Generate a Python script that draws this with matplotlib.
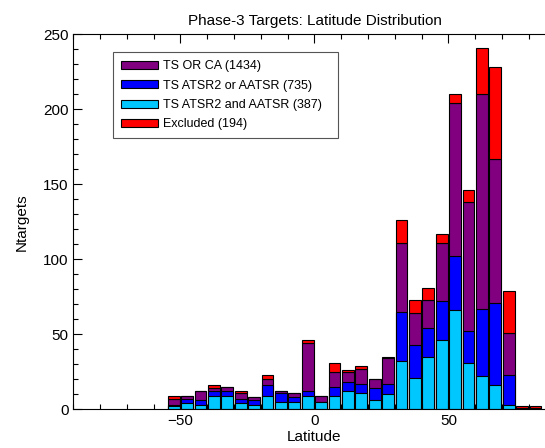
import numpy as np
import matplotlib
matplotlib.use("Agg")
import matplotlib.pyplot as plt
from matplotlib.patches import Patch

plt.rcParams['font.family'] = ['Liberation Sans', 'DejaVu Sans']

# 5-degree latitude bins (left edges)
bin_left = [-55, -50, -45, -40, -35, -30, -25, -20, -15, -10, -5, 0, 5, 10,
            15, 20, 25, 30, 35, 40, 45, 50, 55, 60, 65, 70, 75, 80]

# counts per bin for each target set
ts_or_ca = [7, 9, 12, 14, 15, 11, 8, 20, 12, 11, 44, 9, 25, 25,
            27, 20, 34, 111, 64, 73, 111, 204, 138, 210, 167, 51, 1, 1]
ts_atsr2_or_aatsr = [3, 7, 6, 12, 12, 7, 6, 16, 11, 8, 12, 5, 15, 18,
                     17, 14, 17, 65, 43, 54, 72, 102, 52, 67, 71, 23, 0, 0]
ts_atsr2_and_aatsr = [2, 4, 3, 9, 9, 4, 3, 9, 5, 5, 9, 5, 9, 12,
                      11, 6, 10, 32, 21, 35, 46, 66, 31, 22, 16, 3, 0, 0]
excluded = [2, 0, 0, 2, 0, 1, 0, 3, 0, 0, 2, 0, 6, 1,
            2, 0, 1, 15, 9, 8, 6, 6, 8, 31, 61, 28, 1, 1]

labels = ["TS OR CA", "TS ATSR2 or AATSR", "TS ATSR2 and AATSR", "Excluded"]
colors = ["#800080", "#0000FF", "#00C8FF", "#FF0000"]

bin_width = 5.0
bar_width = 4.4
centers = np.array(bin_left) + bin_width / 2

fig = plt.figure(figsize=(5.45, 4.48), dpi=100)
ax = fig.add_axes([73.3 / 545, 38.7 / 448, 482.3 / 545, 375.0 / 448])

edge = dict(edgecolor="black", linewidth=0.8)
ax.bar(centers, ts_or_ca, width=bar_width, color=colors[0], **edge)
ax.bar(centers, excluded, width=bar_width, bottom=ts_or_ca, color=colors[3], **edge)
ax.bar(centers, ts_atsr2_or_aatsr, width=bar_width, color=colors[1], **edge)
ax.bar(centers, ts_atsr2_and_aatsr, width=bar_width, color=colors[2], **edge)

ax.set_xlim(-90, 90)
ax.set_ylim(0, 250)
ax.set_xticks([-50, 0, 50])
ax.set_xticks(np.arange(-90, 91, 10), minor=True)
ax.set_yticks(np.arange(0, 251, 50))
ax.set_yticks(np.arange(0, 251, 10), minor=True)
ax.tick_params(which="both", direction="in", top=True, right=True, labelsize=11)
ax.tick_params(which="major", length=6.5, width=0.8)
ax.tick_params(which="minor", length=3.5, width=0.8)
for s in ax.spines.values():
    s.set_linewidth(0.8)

ax.set_xlabel("Latitude", fontsize=11, labelpad=1)
ax.set_ylabel("Ntargets", fontsize=11, labelpad=10)
ax.set_title("Phase-3 Targets: Latitude Distribution", fontsize=11, pad=7)

totals = [sum(ts_or_ca), sum(ts_atsr2_or_aatsr), sum(ts_atsr2_and_aatsr), sum(excluded)]
handles = [Patch(facecolor=c, edgecolor="black", linewidth=0.8) for c in colors]
leg_labels = [f"{l} ({t})" for l, t in zip(labels, totals)]
leg_left, leg_right = 113.3, 337.7
leg_top, leg_bottom = 52.5, 134.3
leg = ax.legend(handles, leg_labels, loc="upper left", mode="expand",
                bbox_to_anchor=(leg_left / 545, (448 - leg_bottom) / 448,
                                (leg_right - leg_left) / 545,
                                (leg_bottom - leg_top) / 448),
                bbox_transform=fig.transFigure, fontsize=9,
                handlelength=2.95, handleheight=0.6, handletextpad=0.4,
                labelspacing=0.6, borderpad=0.6, borderaxespad=0,
                fancybox=False, shadow=False, framealpha=1)
leg.get_frame().set_edgecolor("#555555")
leg.get_frame().set_linewidth(0.8)

fig.savefig("out.png", dpi=100)
